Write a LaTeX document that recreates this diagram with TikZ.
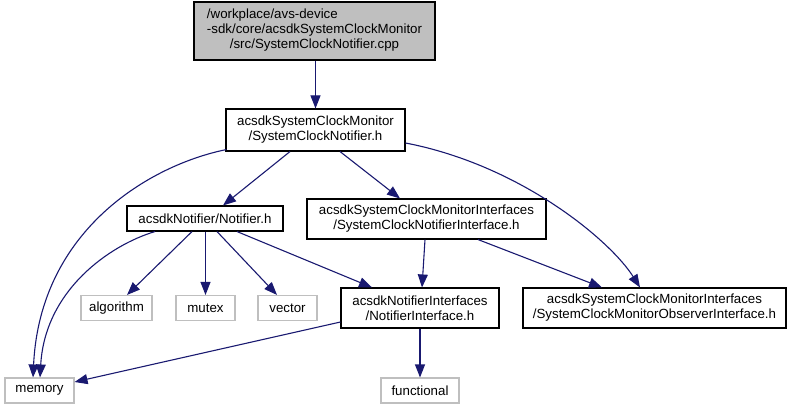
\documentclass[tikz,border=0pt]{standalone}
\usepackage{fontspec}
\setmainfont{Liberation Sans}
\usetikzlibrary{arrows.meta,calc}
\definecolor{edgeblue}{HTML}{191970}
\definecolor{leafgray}{HTML}{BFBFBF}
\definecolor{rootfill}{HTML}{BFBFBF}
\begin{document}
\begin{tikzpicture}[x=1pt,y=-1pt,
  every node/.style={font=\fontsize{13.3}{15}\selectfont, inner sep=0pt, align=center},
  hbox/.style={draw=black, line width=1.1pt, rectangle},
  leaf/.style={draw=leafgray, line width=1.1pt, rectangle},
  rootbox/.style={draw=black, fill=rootfill, line width=1.1pt, rectangle},
  dep/.style={draw=edgeblue, line width=1.1pt, -{Triangle[length=13pt,width=10pt]}}]
\useasboundingbox (0,0) rectangle (791,409);

\node[rootbox, minimum width=241pt, minimum height=58pt] (root) at (314.5,31)
  {\begin{tabular}{@{}l@{}}/workplace/avs-device\\-sdk/core/acsdkSystemClockMonitor\\\multicolumn{1}{@{}c@{}}{/src/SystemClockNotifier.cpp}\end{tabular}};
\node[hbox, minimum width=179pt, minimum height=42pt] (scn) at (315.5,130)
  {acsdkSystemClockMonitor\\/SystemClockNotifier.h};
\node[hbox, minimum width=156pt, minimum height=25pt] (notif) at (205,218.5)
  {acsdkNotifier/Notifier.h};
\node[hbox, minimum width=239pt, minimum height=40pt] (scni) at (426.5,219)
  {acsdkSystemClockMonitorInterfaces\\/SystemClockNotifierInterface.h};
\node[hbox, minimum width=158pt, minimum height=40pt] (ni) at (420,308)
  {acsdkNotifierInterfaces\\/NotifierInterface.h};
\node[hbox, minimum width=263pt, minimum height=40pt] (scmoi) at (654.5,308)
  {acsdkSystemClockMonitorInterfaces\\/SystemClockMonitorObserverInterface.h};
\node[leaf, minimum width=71pt, minimum height=25pt] (algo) at (116.5,308) {algorithm};
\node[leaf, minimum width=59pt, minimum height=25pt] (mutex) at (205.5,308) {mutex};
\node[leaf, minimum width=59pt, minimum height=25pt] (vector) at (287.5,308) {vector};
\node[leaf, minimum width=69pt, minimum height=25pt] (memory) at (39.5,390.5) {memory};
\node[leaf, minimum width=78pt, minimum height=25pt] (func) at (420,390.5) {functional};

% edges
\draw[dep] (root.south -| scn.north) -- (scn.north);
\draw[dep] ($(scn.south west)+(1,-2)$) .. controls (150,165) and (40,230) .. ($(memory.north)+(-6.5,0)$);
\draw[dep] ($(scn.south)+(-25.5,0)$) -- ($(notif.north)+(18,0)$);
\draw[dep] ($(scn.south)+(24.5,0)$) -- ($(scni.north)+(-26.5,0)$);
\draw[dep] ($(scn.east)+(0,13)$) .. controls (520,165) and (610,240) .. ($(scmoi.north)+(-14.5,0)$);
\draw[dep] ($(notif.south)+(-50,0)$) .. controls (110,245) and (45,290) .. ($(memory.north)+(0.5,0)$);
\draw[dep] ($(notif.south)+(-13,0)$) -- ($(algo.north)+(10.5,0)$);
\draw[dep] (notif.south -| mutex.north) -- (mutex.north);
\draw[dep] ($(notif.south)+(12,0)$) -- ($(vector.north)+(-10.5,0)$);
\draw[dep] ($(notif.south)+(32,0)$) -- ($(ni.north)+(-48,0)$);
\draw[dep] ($(scni.south)+(-1.5,0)$) -- ($(ni.north)+(2,0)$);
\draw[dep] ($(scni.south)+(51.5,0)$) -- ($(scmoi.north)+(-52.5,0)$);
\draw[dep] ($(ni.west)+(0,14)$) -- ($(memory.east)+(0,-8.5)$);
\draw[dep] (ni.south) -- (func.north);
\end{tikzpicture}
\end{document}
